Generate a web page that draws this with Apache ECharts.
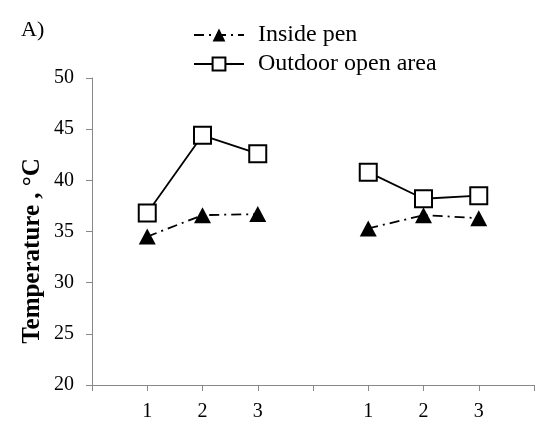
<!DOCTYPE html>
<html><head><meta charset="utf-8">
<script src="https://cdn.jsdelivr.net/npm/echarts@6/dist/echarts.min.js"></script>
<style>html,body{margin:0;padding:0;background:#fff}#c{width:550px;height:436px}</style>
</head><body><div id="c"></div>
<script>
const categories = ['', '1', '2', '3', '', '1', '2', '3', ''];
const insidePen = ['-', 34.5, 36.6, 36.7, '-', 35.3, 36.6, 36.3, '-'];
const outdoorOpen = ['-', 36.8, 44.4, 42.6, '-', 40.8, 38.2, 38.5, '-'];
const yTicks = {min: 20, max: 50, interval: 5};
const yTitle = 'Temperature , °C';
const font = 'Liberation Serif';
const chart = echarts.init(document.getElementById('c'));
chart.setOption({
  animation: false,
  backgroundColor: '#fff',
  grid: {left: 92, right: 16, top: 78, bottom: 51},
  title: {text: 'A)', left: 16, top: 14, textStyle: {fontFamily: font, fontSize: 22, fontWeight: 'normal', color: '#000'}},
  graphic: [{
    type: 'text', x: 33, y: 251, rotation: Math.PI / 2,
    style: {text: yTitle, font: 'bold 25px "Liberation Serif"', fill: '#000', align: 'center', verticalAlign: 'middle'}
  }],
  legend: {
    orient: 'vertical', left: 188, top: 18, itemGap: 5, itemWidth: 50, itemHeight: 16,
    textStyle: {fontFamily: font, fontSize: 24, color: '#000', padding: [0, 0, 0, 9]},
    data: ['Inside pen', 'Outdoor open area']
  },
  xAxis: {
    type: 'category', data: categories, boundaryGap: false,
    axisLine: {lineStyle: {color: '#888', width: 1}},
    axisTick: {show: true, length: 6, lineStyle: {color: '#888'}},
    axisLabel: {fontFamily: font, fontSize: 20, color: '#000', margin: 17, interval: 0}
  },
  yAxis: {
    type: 'value', min: yTicks.min, max: yTicks.max, interval: yTicks.interval,
    axisLine: {show: true, lineStyle: {color: '#888', width: 1}},
    axisTick: {show: true, length: 6, lineStyle: {color: '#888'}},
    axisLabel: {fontFamily: font, fontSize: 20, color: '#000', margin: 18},
    splitLine: {show: false}
  },
  series: [
    {
      name: 'Inside pen', type: 'line', data: insidePen, connectNulls: false,
      symbol: 'triangle', symbolSize: [17, 16],
      itemStyle: {color: '#000'},
      lineStyle: {color: '#000', width: 1.8, type: [10, 5, 2, 5]}
    },
    {
      name: 'Outdoor open area', type: 'line', data: outdoorOpen, connectNulls: false,
      symbol: 'rect', symbolSize: 17,
      itemStyle: {color: '#fff', borderColor: '#000', borderWidth: 2},
      lineStyle: {color: '#000', width: 1.8}
    }
  ]
});
</script></body></html>
